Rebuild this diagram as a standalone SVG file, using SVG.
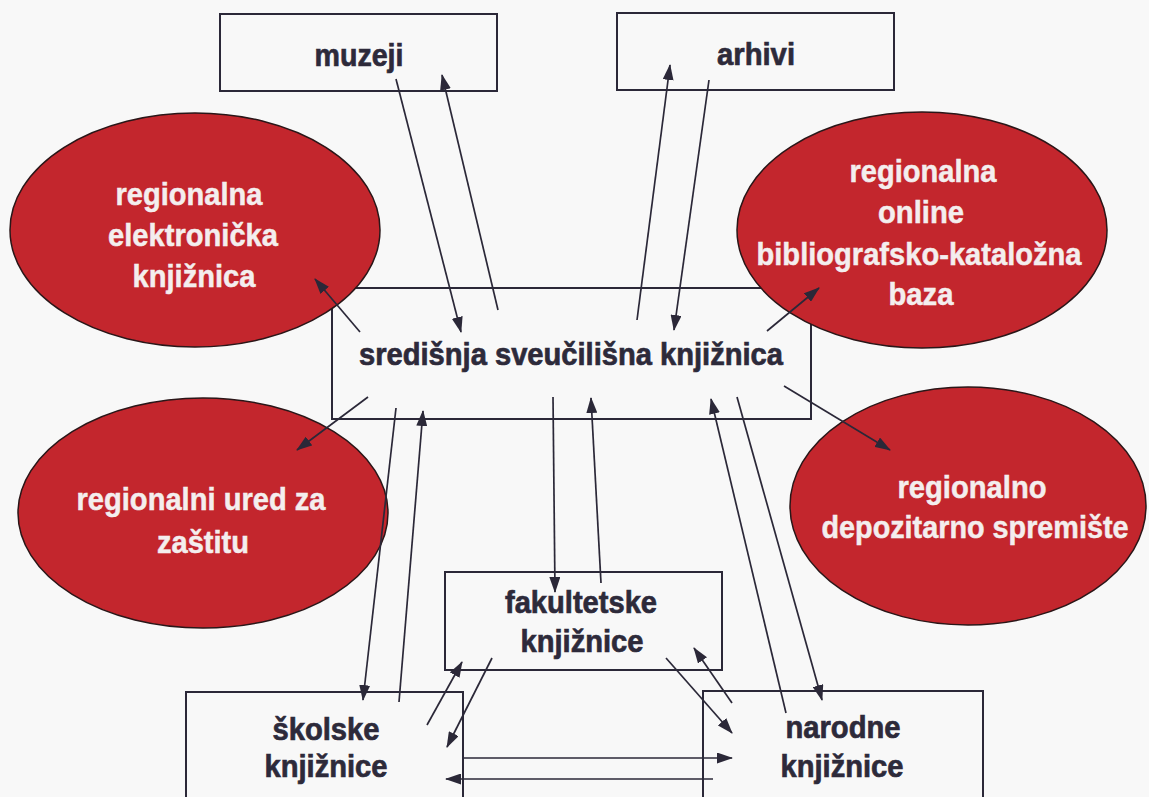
<svg xmlns="http://www.w3.org/2000/svg" width="1149" height="797" viewBox="0 0 1149 797">
<style>
.box{fill:none;stroke:#2b2838;stroke-width:2}
.ell{fill:#c3262d;stroke:#2a1618;stroke-width:1.5}
.dk{font-family:"Liberation Sans",Arial,sans-serif;font-weight:bold;font-size:32px;fill:#2d2a3a;stroke:#2d2a3a;stroke-width:0.7;text-anchor:middle}
.wt{font-family:"Liberation Sans",Arial,sans-serif;font-weight:bold;font-size:32px;fill:#f4eeee;stroke:#f4eeee;stroke-width:0.5;text-anchor:middle}
.c line{stroke:#2b2838;stroke-width:1.7;marker-end:url(#ah)}
</style>
<defs>
<marker id="ah" markerUnits="userSpaceOnUse" markerWidth="16" markerHeight="11" refX="15" refY="5.5" orient="auto" viewBox="0 0 16 11">
<path d="M0,0 L16,5.5 L0,11 z" fill="#2b2838"/>
</marker>
</defs>
<rect width="1149" height="797" fill="#f8f8f8"/>

<g id="muzeji">
<rect class="box" x="220" y="14" width="277" height="77"/>
<text class="dk" x="359" y="66" textLength="89" lengthAdjust="spacingAndGlyphs">muzeji</text>
</g>
<g id="arhivi">
<rect class="box" x="617" y="13" width="277" height="77"/>
<text class="dk" x="756" y="65" textLength="78" lengthAdjust="spacingAndGlyphs">arhivi</text>
</g>
<g id="sredisnja">
<rect class="box" x="332" y="288" width="479" height="131"/>
<text class="dk" x="571" y="365" textLength="424" lengthAdjust="spacingAndGlyphs">središnja sveučilišna knjižnica</text>
</g>
<g id="fakultetske">
<rect class="box" x="445" y="572" width="277" height="98"/>
<text class="dk" x="581" y="613" textLength="152" lengthAdjust="spacingAndGlyphs">fakultetske</text>
<text class="dk" x="582" y="652" textLength="123" lengthAdjust="spacingAndGlyphs">knjižnice</text>
</g>
<g id="skolske">
<rect class="box" x="186" y="692" width="277" height="120"/>
<text class="dk" x="326" y="740" textLength="107" lengthAdjust="spacingAndGlyphs">školske</text>
<text class="dk" x="326" y="777" textLength="123" lengthAdjust="spacingAndGlyphs">knjižnice</text>
</g>
<g id="narodne">
<rect class="box" x="703" y="691" width="280" height="120"/>
<text class="dk" x="843" y="738" textLength="115" lengthAdjust="spacingAndGlyphs">narodne</text>
<text class="dk" x="842" y="777" textLength="123" lengthAdjust="spacingAndGlyphs">knjižnice</text>
</g>

<g id="elektronicka">
<ellipse class="ell" cx="195" cy="230" rx="185" ry="117"/>
<text class="wt" x="189" y="205" textLength="147" lengthAdjust="spacingAndGlyphs">regionalna</text>
<text class="wt" x="193" y="246" textLength="170" lengthAdjust="spacingAndGlyphs">elektronička</text>
<text class="wt" x="194" y="287" textLength="123" lengthAdjust="spacingAndGlyphs">knjižnica</text>
</g>
<g id="online">
<ellipse class="ell" cx="922" cy="230" rx="185" ry="118"/>
<text class="wt" x="923" y="182" textLength="147" lengthAdjust="spacingAndGlyphs">regionalna</text>
<text class="wt" x="921" y="223" textLength="86" lengthAdjust="spacingAndGlyphs">online</text>
<text class="wt" x="919" y="265" textLength="325" lengthAdjust="spacingAndGlyphs">bibliografsko-kataložna</text>
<text class="wt" x="921" y="305" textLength="65" lengthAdjust="spacingAndGlyphs">baza</text>
</g>
<g id="ured">
<ellipse class="ell" cx="203" cy="513" rx="185" ry="115"/>
<text class="wt" x="201" y="510" textLength="249" lengthAdjust="spacingAndGlyphs">regionalni ured za</text>
<text class="wt" x="203" y="553" textLength="92" lengthAdjust="spacingAndGlyphs">zaštitu</text>
</g>
<g id="depozitarno">
<ellipse class="ell" cx="968" cy="506" rx="178" ry="119"/>
<text class="wt" x="972" y="498" textLength="149" lengthAdjust="spacingAndGlyphs">regionalno</text>
<text class="wt" x="975" y="538" textLength="307" lengthAdjust="spacingAndGlyphs">depozitarno spremište</text>
</g>

<g id="connectors" class="c">
<line x1="396" y1="79" x2="461" y2="332"/>
<line x1="498" y1="310" x2="442" y2="75"/>
<line x1="637" y1="320" x2="670" y2="65"/>
<line x1="709" y1="80" x2="674" y2="330"/>
<line x1="360" y1="332" x2="315" y2="279"/>
<line x1="767" y1="331" x2="819" y2="288"/>
<line x1="368" y1="397" x2="297" y2="450"/>
<line x1="784" y1="386" x2="890" y2="450"/>
<line x1="396" y1="408" x2="363" y2="700"/>
<line x1="399" y1="702" x2="423" y2="411"/>
<line x1="553" y1="397" x2="555" y2="592"/>
<line x1="601" y1="583" x2="591" y2="398"/>
<line x1="737" y1="397" x2="822" y2="700"/>
<line x1="786" y1="713" x2="711" y2="399"/>
<line x1="427" y1="725" x2="462" y2="662"/>
<line x1="492" y1="658" x2="447" y2="747"/>
<line x1="666" y1="658" x2="732" y2="733"/>
<line x1="732" y1="703" x2="694" y2="648"/>
<line x1="464" y1="758" x2="732" y2="758"/>
<line x1="713" y1="779" x2="446" y2="779"/>
</g>
</svg>
